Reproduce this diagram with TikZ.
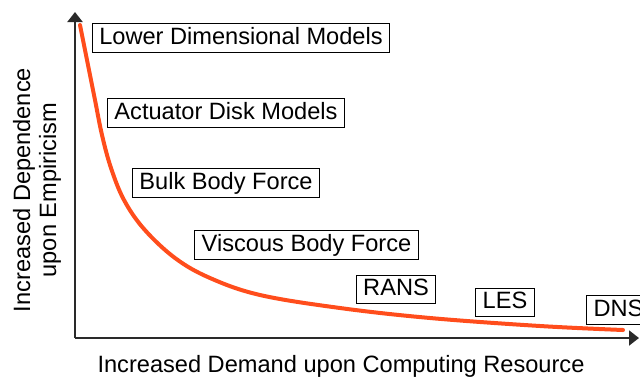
\documentclass[tikz,border=0pt]{standalone}
\usepackage{fontspec}
\setmainfont{Liberation Sans}
\usetikzlibrary{arrows.meta}
\definecolor{curvecol}{HTML}{FF4D1C}
\definecolor{axiscol}{HTML}{2A2A2A}
\tikzset{
  modelbox/.style={draw=black, line width=1.1bp, fill=white, inner xsep=7bp, inner ysep=3bp,
    text height=17.5bp, text depth=4.7bp, font=\fontsize{23.7}{28}\selectfont},
  axisline/.style={draw=axiscol, line width=2bp, -{Triangle[length=10bp,width=15bp]}},
  axislabel/.style={font=\fontsize{23.7}{26}\selectfont, align=center, inner sep=0pt},
  tradeoff/.style={draw=curvecol, line width=4bp, line cap=round}
}
\begin{document}
\begin{tikzpicture}[x=1bp,y=-1bp]
\useasboundingbox (0,0) rectangle (640,381);
\clip (0,0) rectangle (640,381);
\coordinate (origin) at (75,338);
\coordinate (ytip) at (75,12);
\coordinate (xtip) at (639,338);
\draw[axisline] (origin) -- (ytip);
\draw[axisline] (origin) -- (xtip);
\draw[tradeoff] plot[smooth, tension=0.6] coordinates {(80,25) (88,65) (95,100) (102,135) (111,168) (124,200) (144,229) (175,258) (210,278) (260,295) (340,308) (430,318) (540,326) (623,330)};
\node[modelbox] (ldm) at (241,38) {Lower Dimensional Models};
\node[modelbox] (adm) at (226,113) {Actuator Disk Models};
\node[modelbox] (bbf) at (226,183) {Bulk Body Force};
\node[modelbox] (vbf) at (306.5,245) {Viscous Body Force};
\node[modelbox] (rans) at (396,289.5) {RANS};
\node[modelbox] (les) at (505,302.5) {LES};
\node[modelbox, anchor=west] (dns) at (586,310) {DNS};
\node[axislabel, rotate=90] (ylab) at (37,190) {Increased Dependence\\upon Empiricism};
\node[axislabel] (xlab) at (341,366) {Increased Demand upon Computing Resource};
\end{tikzpicture}
\end{document}
